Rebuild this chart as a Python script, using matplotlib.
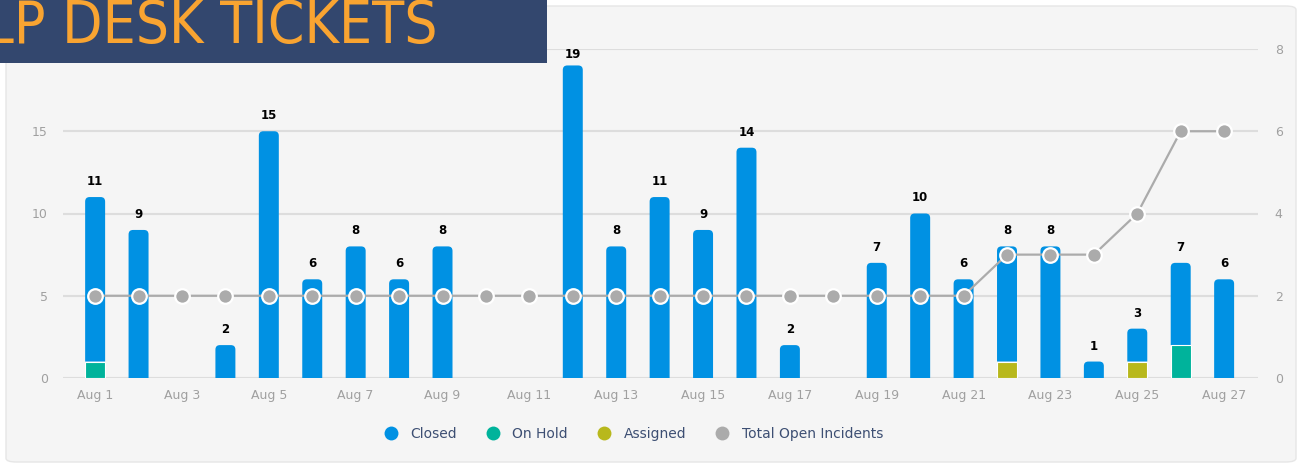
import numpy as np
import matplotlib
matplotlib.use("Agg")
import matplotlib.pyplot as plt
from matplotlib.lines import Line2D
from matplotlib.patches import FancyBboxPatch, Rectangle, PathPatch
from matplotlib.path import Path

# ── Data ──────────────────────────────────────────────────────────────────────
days = ["Aug 1", "Aug 2", "Aug 3", "Aug 4", "Aug 5", "Aug 6", "Aug 7", "Aug 8",
        "Aug 9", "Aug 10", "Aug 11", "Aug 12", "Aug 13", "Aug 14", "Aug 15",
        "Aug 16", "Aug 17", "Aug 18", "Aug 19", "Aug 20", "Aug 21", "Aug 22",
        "Aug 23", "Aug 24", "Aug 25", "Aug 26", "Aug 27"]
on_hold  = [1, 0, 0, 0, 0, 0, 0, 0, 0, 0, 0, 0, 0, 0, 0, 0, 0, 0, 0, 0, 0, 0, 0, 0, 0, 2, 0]
assigned = [0, 0, 0, 0, 0, 0, 0, 0, 0, 0, 0, 0, 0, 0, 0, 0, 0, 0, 0, 0, 0, 1, 0, 0, 1, 0, 0]
closed   = [10, 9, 0, 2, 15, 6, 8, 6, 8, 0, 0, 19, 8, 11, 9, 14, 2, 0, 7, 10, 6, 7, 8, 1, 2, 5, 6]
open_incidents = [2, 2, 2, 2, 2, 2, 2, 2, 2, 2, 2, 2, 2, 2, 2, 2, 2, 2, 2, 2, 2, 3, 3, 3, 4, 6, 6]

C_CLOSED   = "#0091e3"
C_HOLD     = "#00b39b"
C_ASSIGNED = "#b8b81c"
C_OPEN     = "#ababab"
C_GRID     = "#dddddd"
C_TICK     = "#a0a0a0"

x = np.arange(len(days))
on_hold  = np.array(on_hold)
assigned = np.array(assigned)
closed   = np.array(closed)
totals   = on_hold + assigned + closed

fig = plt.figure(figsize=(13, 4.67), dpi=100, facecolor="white")

# light panel behind the chart
panel = FancyBboxPatch((6 / 1300, 5 / 467), 1290 / 1300, 456 / 467,
                       boxstyle="round,pad=0,rounding_size=0.008",
                       transform=fig.transFigure, facecolor="#f5f5f5",
                       edgecolor="#e6e6e6", lw=1, zorder=-1)
fig.patches.append(panel)

ax = fig.add_axes([63 / 1300, 89 / 467, 1195 / 1300, 329 / 467])
ax.set_facecolor("none")
ax2 = ax.twinx()

ax.set_xlim(-0.74, 26.78)
ax.set_ylim(0, 20)
ax2.set_ylim(0, 8)

w = 0.46
base = on_hold + assigned

# Closed segment on top, rounded upper corners (radius ~4.5 px)
rx = 4.5 / (ax.bbox.width / (26.78 + 0.74))
ry = 4.5 / (ax.bbox.height / 20)


def rounded_top(xc, b, h):
    x0, x1, t = xc - w / 2, xc + w / 2, b + h
    verts = [(x0, b), (x1, b), (x1, t - ry), (x1, t), (x1 - rx, t),
             (x0 + rx, t), (x0, t), (x0, t - ry), (x0, b)]
    codes = [Path.MOVETO, Path.LINETO, Path.LINETO, Path.CURVE3, Path.CURVE3,
             Path.LINETO, Path.CURVE3, Path.CURVE3, Path.CLOSEPOLY]
    return Path(verts, codes)


for xi, b, h in zip(x, base, closed):
    if h > 0:
        ax.add_patch(PathPatch(rounded_top(xi, b, h), facecolor=C_CLOSED,
                               edgecolor="none", zorder=2))

# lower segments, white edge gives the thin separator line
m = on_hold > 0
ax.bar(x[m], on_hold[m], w, color=C_HOLD, edgecolor="white", lw=0.8, zorder=2.3)
m = assigned > 0
ax.bar(x[m], assigned[m], w, bottom=on_hold[m], color=C_ASSIGNED,
       edgecolor="white", lw=0.8, zorder=2.3)

for xi, t in zip(x, totals):
    if t > 0:
        ax.text(xi, min(t + 0.55, 19.25), str(t), ha="center", va="bottom",
                fontsize=8.5, fontweight="bold", color="black", zorder=4)

ax2.plot(x, open_incidents, color=C_OPEN, lw=1.6, marker="o", ms=10.5,
         mfc=C_OPEN, mec="white", mew=1.6, zorder=5)

ax.set_yticks([0, 5, 10, 15, 20])
ax.set_yticklabels(["0", "5", "10", "15", ""])
ax2.set_yticks([0, 2, 4, 6, 8])
ax.set_xticks(x[::2])
ax.set_xticklabels(days[::2])

ax.grid(axis="y", color=C_GRID, lw=1.5, zorder=0)
ax.set_axisbelow(True)
for a in (ax, ax2):
    for s in a.spines.values():
        s.set_visible(False)
    a.tick_params(length=0, colors=C_TICK, labelsize=9)
ax.tick_params(axis="x", pad=8)
ax.tick_params(axis="y", pad=11)
ax2.tick_params(axis="y", pad=12)

# legend
handles = [
    Line2D([], [], ls="none", marker="o", ms=10, mfc=C_CLOSED, mec="none", label="Closed"),
    Line2D([], [], ls="none", marker="o", ms=10, mfc=C_HOLD, mec="none", label="On Hold"),
    Line2D([], [], ls="none", marker="o", ms=10, mfc=C_ASSIGNED, mec="none", label="Assigned"),
    Line2D([], [], ls="none", marker="o", ms=10, mfc=C_OPEN, mec="none", label="Total Open Incidents"),
]
leg = fig.legend(handles=handles, loc="center", bbox_to_anchor=(630 / 1300, 33 / 467),
                 ncol=4, frameon=False, fontsize=10, handletextpad=0.4,
                 columnspacing=1.6, labelcolor="#3d4f73")

# title banner
banner = Rectangle((0, 1 - 63 / 467), 547 / 1300, 63 / 467, transform=fig.transFigure,
                   facecolor="#33476e", edgecolor="none", zorder=10)
fig.patches.append(banner)
fig.text(437 / 1300, 1 - 43 / 467, "HELP DESK TICKETS", ha="right", va="baseline",
         fontsize=42, color="#f9a431", zorder=11, fontstretch="condensed",
         family=["DejaVu Sans"])

fig.savefig("out.png", dpi=100, facecolor="white")
